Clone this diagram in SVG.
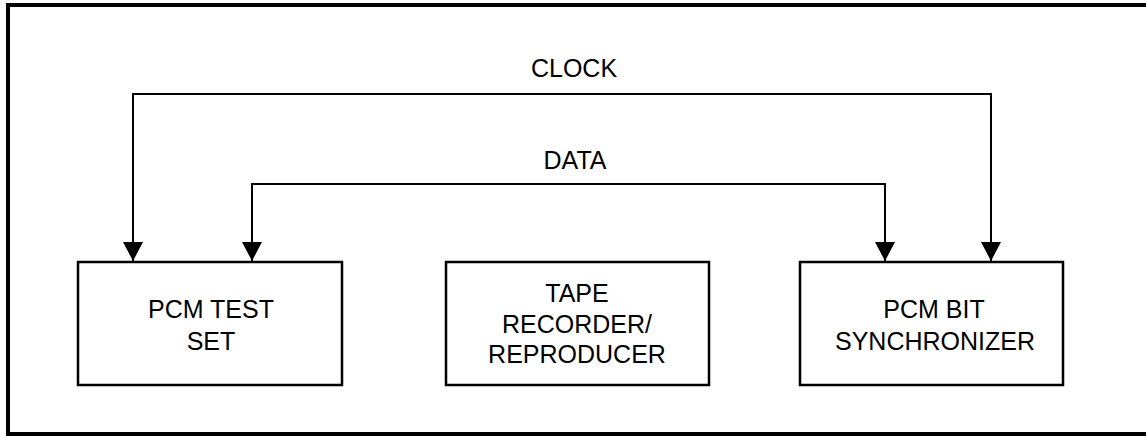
<svg xmlns="http://www.w3.org/2000/svg" width="1146" height="437" viewBox="0 0 1146 437">
<defs>
<style>
.box{fill:#fff;stroke:#000;stroke-width:2.5}
.wire{fill:none;stroke:#000;stroke-width:2}
text{font-family:"Liberation Sans",Arial,sans-serif;font-size:25px;fill:#000;text-anchor:middle}
</style>
<marker id="arr" markerUnits="userSpaceOnUse" markerWidth="20" markerHeight="19" viewBox="0 0 20 19" refX="10" refY="19" orient="0">
<path d="M0,0 L20,0 L10,19 Z" fill="#000"/>
</marker>
</defs>
<rect x="0" y="0" width="1146" height="437" fill="#fff"/>
<rect x="8" y="5" width="1145" height="429" fill="none" stroke="#000" stroke-width="4"/>
<g id="connectors">
<path class="wire" d="M133,261 V94 H991 V261" marker-start="url(#arr)" marker-end="url(#arr)"/>
<path class="wire" d="M252,261 V184 H885 V261" marker-start="url(#arr)" marker-end="url(#arr)"/>
<text x="574" y="77">CLOCK</text>
<text x="575" y="169">DATA</text>
</g>
<g id="pcm-test-set">
<rect class="box" x="78" y="262" width="264" height="123"/>
<text x="211" y="318">PCM TEST</text>
<text x="211" y="350">SET</text>
</g>
<g id="tape-recorder">
<rect class="box" x="446" y="262" width="263" height="123"/>
<text x="577" y="302">TAPE</text>
<text x="577" y="333">RECORDER/</text>
<text x="577" y="363">REPRODUCER</text>
</g>
<g id="pcm-bit-sync">
<rect class="box" x="800" y="262" width="263" height="123"/>
<text x="934" y="318">PCM BIT</text>
<text x="935" y="350">SYNCHRONIZER</text>
</g>
</svg>
